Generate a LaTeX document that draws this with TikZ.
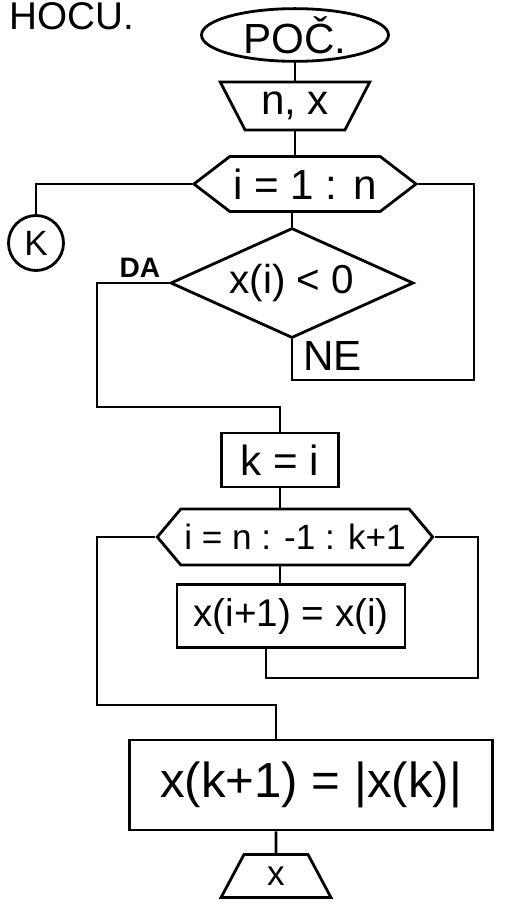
\documentclass[tikz,border=0pt]{standalone}
\usepackage{fontspec}
\setmainfont{Liberation Sans}
\usetikzlibrary{positioning,shapes.geometric,shapes.symbols}

\begin{document}
\begin{tikzpicture}[x=0.02cm,y=-0.02cm,line width=1.6pt]
\tikzstyle{txt}=[font=\fontsize{20}{24}\selectfont]
\tikzstyle{big}=[font=\fontsize{24}{28}\selectfont]
\tikzstyle{term}=[draw,ellipse,big,minimum width=3.74cm,minimum height=0.96cm,inner sep=0pt]
\tikzstyle{io}=[draw,trapezium,trapezium stretches=true,txt,inner sep=2pt]
\tikzstyle{loop}=[draw,signal,signal to=east and west,txt,inner sep=2pt]
\tikzstyle{cond}=[draw,diamond,aspect=2.2,font=\fontsize{23}{27}\selectfont,inner sep=0pt,minimum width=4.86cm,minimum height=2.2cm]
\tikzstyle{proc}=[draw,rectangle,txt]
\useasboundingbox (0,0) rectangle (508,909);

\node[txt,font=\fontsize{22}{26}\selectfont,anchor=base west] (title) at (2,30) {HOCU.};
\node[term] (start) at (295,35) {POČ.};
\node[io,big,shape border rotate=180,trapezium left angle=62,trapezium right angle=62,minimum width=3cm,minimum height=0.96cm] (input) at (295,106) {n, x};
\node[loop,big,signal pointer angle=75,minimum width=4.4cm,minimum height=1.1cm] (loop1) at (305,184) {i = 1 : n};
\node[draw,circle,txt,minimum size=1.1cm,inner sep=0pt] (K) at (36,243) {K};
\node[cond] (dec) at (292,283) {x(i) < 0};
\node[txt,font=\fontsize{16}{18}\selectfont\bfseries] (da) at (140,268) {DA};
\node[big,anchor=west] (ne) at (296,356) {NE};
\node[proc,big,minimum width=2.34cm,minimum height=1.08cm] (kbox) at (280,460) {k = i};
\node[loop,signal pointer angle=100,minimum width=4.92cm,minimum height=1.12cm] (loop2) at (295,537) {i = n : -1 : k+1};
\node[proc,font=\fontsize{22}{26}\selectfont,minimum width=4.56cm,minimum height=1.26cm] (body) at (291,616) {x(i+1) = x(i)};
\node[proc,font=\fontsize{28}{32}\selectfont,minimum width=7.26cm,minimum height=1.8cm] (final) at (311,785) {x(k+1) = |x(k)|};
\node[io,trapezium left angle=71,trapezium right angle=71,minimum width=2.2cm,minimum height=0.86cm] (out) at (276,876) {x};

\coordinate (dacorner) at (97,407);
\coordinate (necorner) at (474,380);
\coordinate (back) at (478,678);
\coordinate (exit) at (97,705);

\draw (start) -- (start |- input.north);
\draw (input.south) -- (input.south |- loop1.north);
\draw (loop1.west) -| (K);
\draw (dec.north |- loop1.south) -- (dec.north);
\draw (dec.west) -| (dacorner) -| (kbox);
\draw (dec.south) |- (necorner) |- (loop1.east);
\draw (kbox.south) -- (kbox.south |- loop2.north);
\draw (kbox.south |- loop2.south) -- (kbox.south |- body.north);
\draw ([xshift=-0.5cm]body.south) |- (back) |- (loop2.east);
\draw (loop2.west) -| (exit) -| (out.north |- final.north);
\draw (out.north |- final.south) -- (out);
\end{tikzpicture}
\end{document}
